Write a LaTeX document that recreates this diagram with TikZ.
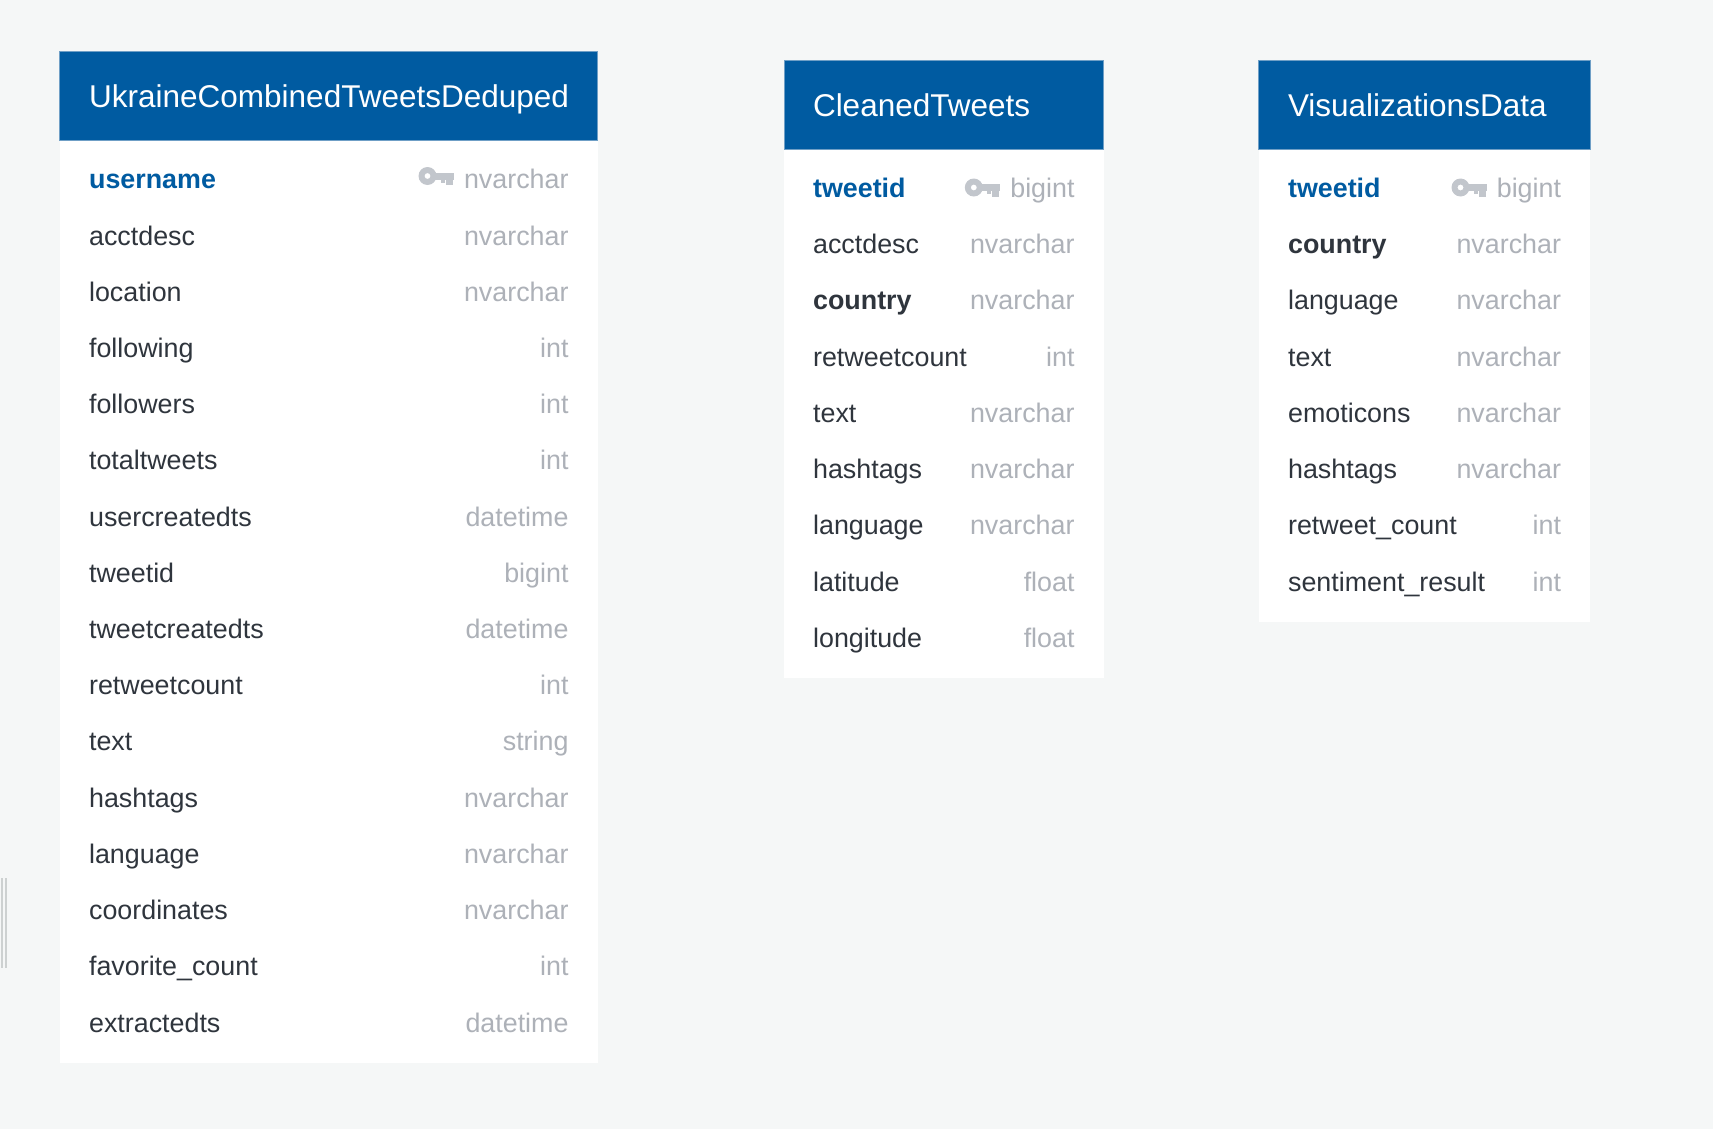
\documentclass[tikz,border=0pt]{standalone}
\usepackage{fontspec}
\setmainfont{Liberation Sans}

\definecolor{pagebg}{HTML}{F5F7F7}
\definecolor{headblue}{HTML}{005BA1}
\definecolor{headedge}{HTML}{6F9FC6}
\definecolor{rowdark}{HTML}{2F353D}
\definecolor{typegray}{HTML}{ADB1B8}
\definecolor{keygray}{HTML}{C2C6CC}
\definecolor{gripgray}{HTML}{CDD1D1}

\tikzset{
  headtext/.style={anchor=base west,inner sep=0pt,text=white,font=\fontsize{31.5}{36}\selectfont},
  colname/.style={anchor=base west,inner sep=0pt,text=rowdark,font=\fontsize{26.85}{32}\selectfont},
  boldname/.style={colname,font=\fontsize{26.85}{32}\selectfont\bfseries},
  keyname/.style={boldname,text=headblue},
  coltype/.style={anchor=base east,inner sep=0pt,text=typegray,font=\fontsize{26.85}{32}\selectfont},
  keyicon/.pic={
    \fill[keygray,even odd rule](8,0) circle (9) (8,0) circle (3);
    \fill[keygray](14,-3.5) rectangle (34,3.5);
    \fill[keygray](21,3) rectangle (25,6.5);
    \fill[keygray](26.5,3) rectangle (33.5,9);
  }
}

\begin{document}
\begin{tikzpicture}[x=1pt,y=-1pt,line width=1pt]

\useasboundingbox[fill=pagebg](0,0) rectangle (1713,1129);

\fill[gripgray](1,878) rectangle (3,968);
\fill[gripgray](5,878) rectangle (7,968);

% first table
\fill[white](59.5,141) rectangle (597.5,1062.8);
\draw[headedge,fill=headblue](59.5,51.5) rectangle (597.5,141);
\node[headtext](ucHead) at (88.7,107.5){UkraineCombinedTweetsDeduped};
\node[keyname](ucName0) at (88.6,188.8){username};
\pic at (419.5,176){keyicon};
\node[coltype](ucType0) at (569,188.8){nvarchar};
\node[colname](ucName1) at (88.6,245){acctdesc};
\node[coltype](ucType1) at (569,245){nvarchar};
\node[colname](ucName2) at (88.6,301.2){location};
\node[coltype](ucType2) at (569,301.2){nvarchar};
\node[colname](ucName3) at (88.6,357.6){following};
\node[coltype](ucType3) at (569,357.6){int};
\node[colname](ucName4) at (88.6,413.8){followers};
\node[coltype](ucType4) at (569,413.8){int};
\node[colname](ucName5) at (88.6,469.8){totaltweets};
\node[coltype](ucType5) at (569,469.8){int};
\node[colname](ucName6) at (88.6,526){usercreatedts};
\node[coltype](ucType6) at (569,526){datetime};
\node[colname](ucName7) at (88.6,582.4){tweetid};
\node[coltype](ucType7) at (569,582.4){bigint};
\node[colname](ucName8) at (88.6,638.6){tweetcreatedts};
\node[coltype](ucType8) at (569,638.6){datetime};
\node[colname](ucName9) at (88.6,694.8){retweetcount};
\node[coltype](ucType9) at (569,694.8){int};
\node[colname](ucName10) at (88.6,750.7){text};
\node[coltype](ucType10) at (569,750.7){string};
\node[colname](ucName11) at (88.6,807.2){hashtags};
\node[coltype](ucType11) at (569,807.2){nvarchar};
\node[colname](ucName12) at (88.6,863.4){language};
\node[coltype](ucType12) at (569,863.4){nvarchar};
\node[colname](ucName13) at (88.6,919.6){coordinates};
\node[coltype](ucType13) at (569,919.6){nvarchar};
\node[colname](ucName14) at (88.6,975.8){favorite\_count};
\node[coltype](ucType14) at (569,975.8){int};
\node[colname](ucName15) at (88.6,1032){extractedts};
\node[coltype](ucType15) at (569,1032){datetime};

% second table
\fill[white](784,150) rectangle (1103.5,678);
\draw[headedge,fill=headblue](784,60.5) rectangle (1103.5,150);
\node[headtext](ctHead) at (812.5,116.9){CleanedTweets};
\node[keyname](ctName0) at (812.6,197.3){tweetid};
\pic at (965.8,187.5){keyicon};
\node[coltype](ctType0) at (1075,197.3){bigint};
\node[colname](ctName1) at (812.6,253.7){acctdesc};
\node[coltype](ctType1) at (1075,253.7){nvarchar};
\node[boldname](ctName2) at (812.6,309.9){country};
\node[coltype](ctType2) at (1075,309.9){nvarchar};
\node[colname](ctName3) at (812.6,366.4){retweetcount};
\node[coltype](ctType3) at (1075,366.4){int};
\node[colname](ctName4) at (812.6,422.3){text};
\node[coltype](ctType4) at (1075,422.3){nvarchar};
\node[colname](ctName5) at (812.6,478.5){hashtags};
\node[coltype](ctType5) at (1075,478.5){nvarchar};
\node[colname](ctName6) at (812.6,534.7){language};
\node[coltype](ctType6) at (1075,534.7){nvarchar};
\node[colname](ctName7) at (812.6,591.2){latitude};
\node[coltype](ctType7) at (1075,591.2){float};
\node[colname](ctName8) at (812.6,647.4){longitude};
\node[coltype](ctType8) at (1075,647.4){float};

% third table
\fill[white](1258.5,150) rectangle (1590,622);
\draw[headedge,fill=headblue](1258.5,60.5) rectangle (1590,150);
\node[headtext](vdHead) at (1287.5,116.9){VisualizationsData};
\node[keyname](vdName0) at (1287.6,197.3){tweetid};
\pic at (1452.5,187.5){keyicon};
\node[coltype](vdType0) at (1561.5,197.3){bigint};
\node[boldname](vdName1) at (1287.6,253.7){country};
\node[coltype](vdType1) at (1561.5,253.7){nvarchar};
\node[colname](vdName2) at (1287.6,309.9){language};
\node[coltype](vdType2) at (1561.5,309.9){nvarchar};
\node[colname](vdName3) at (1287.6,366.4){text};
\node[coltype](vdType3) at (1561.5,366.4){nvarchar};
\node[colname](vdName4) at (1287.6,422.3){emoticons};
\node[coltype](vdType4) at (1561.5,422.3){nvarchar};
\node[colname](vdName5) at (1287.6,478.5){hashtags};
\node[coltype](vdType5) at (1561.5,478.5){nvarchar};
\node[colname](vdName6) at (1287.6,534.7){retweet\_count};
\node[coltype](vdType6) at (1561.5,534.7){int};
\node[colname](vdName7) at (1287.6,591.2){sentiment\_result};
\node[coltype](vdType7) at (1561.5,591.2){int};

\end{tikzpicture}
\end{document}
